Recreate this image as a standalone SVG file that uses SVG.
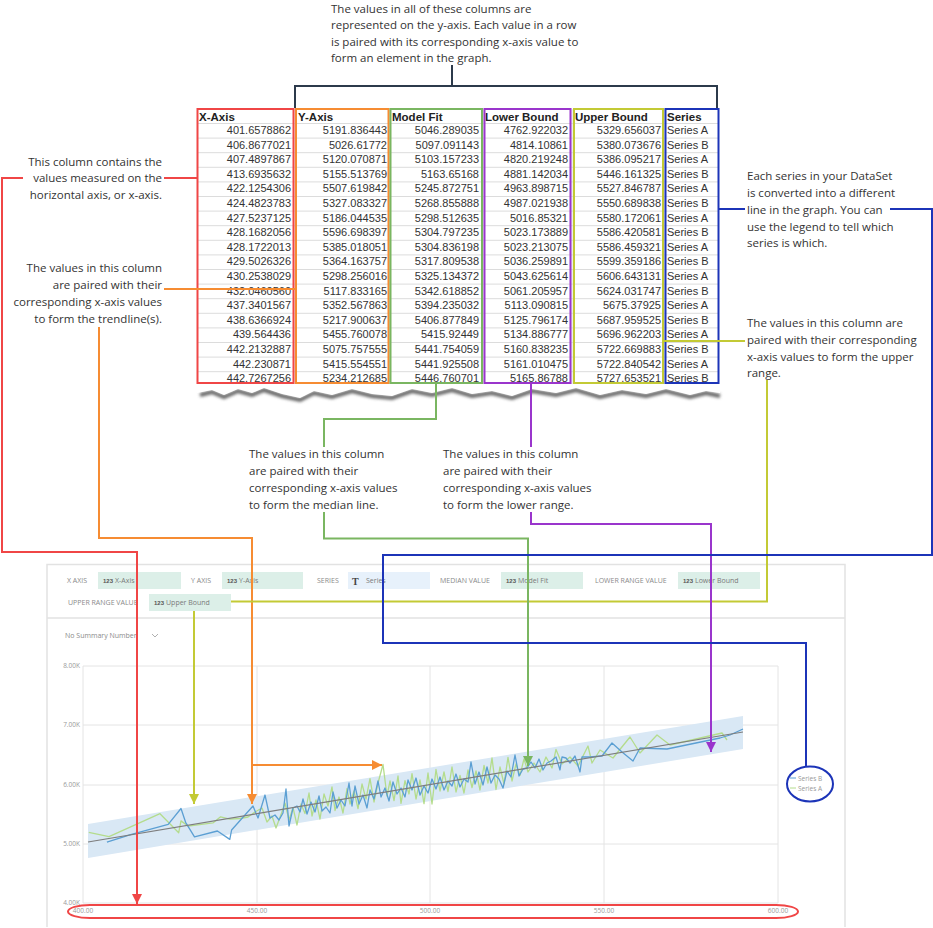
<svg xmlns="http://www.w3.org/2000/svg" width="933" height="928" viewBox="0 0 933 928">
<style>
.ann{font-family:"Open Sans","Noto Sans",sans-serif;font-size:11.5px;fill:#333}
.tb{font-family:"Liberation Sans",Arial,sans-serif;font-size:11px;fill:#333}
.th{font-family:"Liberation Sans",Arial,sans-serif;font-size:11.5px;font-weight:bold;fill:#222}
.grid{stroke:#dcdcdc;stroke-width:1;fill:none}
.lab{font-family:"Open Sans","Noto Sans",sans-serif;font-size:7px;fill:#8a8a8a}
.fld{fill:#dcefe8}
.ico{font-family:"Liberation Sans",Arial,sans-serif;font-size:6px;font-weight:bold;fill:#555}
.ftx{font-family:"Open Sans","Noto Sans",sans-serif;font-size:7px;fill:#7a7a7a}
.ax{font-family:"Open Sans","Noto Sans",sans-serif;font-size:6.5px;fill:#999}
.cg{stroke:#e4e4e4;stroke-width:1;fill:none}
.con{fill:none;stroke-width:2}
.red{stroke:#f04646}.ora{stroke:#f68c32}.yel{stroke:#c3ca35}.grn{stroke:#7ab661}.pur{stroke:#9a35cc}.blu{stroke:#1c34b8}.drk{stroke:#2c3a4b}
</style>
<defs>
<marker id="aR" viewBox="0 0 10 10" refX="10" refY="5" markerWidth="10" markerHeight="10" markerUnits="userSpaceOnUse" orient="auto"><path d="M0,0 L10,5 L0,10z" fill="#f04646"/></marker>
<marker id="aO" viewBox="0 0 10 10" refX="10" refY="5" markerWidth="10" markerHeight="10" markerUnits="userSpaceOnUse" orient="auto"><path d="M0,0 L10,5 L0,10z" fill="#f68c32"/></marker>
<marker id="aY" viewBox="0 0 10 10" refX="10" refY="5" markerWidth="10" markerHeight="10" markerUnits="userSpaceOnUse" orient="auto"><path d="M0,0 L10,5 L0,10z" fill="#c3ca35"/></marker>
<marker id="aG" viewBox="0 0 10 10" refX="10" refY="5" markerWidth="10" markerHeight="10" markerUnits="userSpaceOnUse" orient="auto"><path d="M0,0 L10,5 L0,10z" fill="#7ab661"/></marker>
<marker id="aP" viewBox="0 0 10 10" refX="10" refY="5" markerWidth="10" markerHeight="10" markerUnits="userSpaceOnUse" orient="auto"><path d="M0,0 L10,5 L0,10z" fill="#9a35cc"/></marker>
<filter id="blur" x="-5%" y="-100%" width="110%" height="300%"><feGaussianBlur stdDeviation="1.8"/></filter>
</defs>
<rect width="933" height="928" fill="#fff"/>

<!-- top annotation -->
<g id="note-yaxis">
<text class="ann" x="331" y="12.5">The values in all of these columns are</text>
<text class="ann" x="331" y="29">represented on the y-axis. Each value in a row</text>
<text class="ann" x="331" y="45.5">is paired with its corresponding x-axis value to</text>
<text class="ann" x="331" y="62">form an element in the graph.</text>
</g>

<!-- table -->
<g id="table">
<path class="grid" d="M197,123.5H719M197,138.1H719M197,152.7H719M197,167.3H719M197,181.9H719M197,196.5H719M197,211.1H719M197,225.7H719M197,240.3H719M197,254.9H719M197,269.5H719M197,284.1H719M197,298.7H719M197,313.3H719M197,327.9H719M197,342.5H719M197,357.1H719M197,371.7H719"/>
<path class="grid" d="M295,109V386M389,109V386M483,109V386M572,109V386M664,109V386"/>
<path d="M200,395 L212,392 L224,397 L238,391 L252,395 L264,390 L282,396 L300,400 L314,393 L332,397 L352,391 L372,396 L392,398 L412,391 L432,395 L452,390 L472,396 L492,393 L512,398 L532,391 L556,395 L576,390 L600,397 L622,392 L646,396 L666,391 L690,397 L706,393 L720,396" fill="none" stroke="#666" stroke-width="4" filter="url(#blur)"/>
<path d="M197,384 H720 V393 L706,391 L690,395 L666,389 L646,394 L622,390 L600,395 L576,388 L556,393 L532,389 L512,396 L492,391 L472,394 L452,388 L432,393 L412,389 L392,396 L372,394 L352,389 L332,395 L314,391 L300,398 L282,394 L264,388 L252,393 L238,389 L224,395 L212,390 L197,393 Z" fill="#fff"/>
<g id="col-x">
<text class="th" x="199" y="121">X-Axis</text>
<g class="tb" text-anchor="end">
<text x="291" y="134">401.6578862</text><text x="291" y="148.6">406.8677021</text><text x="291" y="163.2">407.4897867</text><text x="291" y="177.8">413.6935632</text><text x="291" y="192.4">422.1254306</text><text x="291" y="207">424.4823783</text><text x="291" y="221.6">427.5237125</text><text x="291" y="236.2">428.1682056</text><text x="291" y="250.8">428.1722013</text><text x="291" y="265.4">429.5026326</text><text x="291" y="280">430.2538029</text><text x="291" y="294.6">432.0460560</text><text x="291" y="309.2">437.3401567</text><text x="291" y="323.8">438.6366924</text><text x="291" y="338.4">439.564436</text><text x="291" y="353">442.2132887</text><text x="291" y="367.6">442.230871</text><text x="291" y="382.2">442.7267256</text>
</g>
<rect x="197.5" y="109" width="96" height="274" fill="none" class="red" stroke-width="2"/>
</g>
<g id="col-y">
<text class="th" x="298" y="121">Y-Axis</text>
<g class="tb" text-anchor="end">
<text x="387" y="134">5191.836443</text><text x="387" y="148.6">5026.61772</text><text x="387" y="163.2">5120.070871</text><text x="387" y="177.8">5155.513769</text><text x="387" y="192.4">5507.619842</text><text x="387" y="207">5327.083327</text><text x="387" y="221.6">5186.044535</text><text x="387" y="236.2">5596.698397</text><text x="387" y="250.8">5385.018051</text><text x="387" y="265.4">5364.163757</text><text x="387" y="280">5298.256016</text><text x="387" y="294.6">5117.833165</text><text x="387" y="309.2">5352.567863</text><text x="387" y="323.8">5217.900637</text><text x="387" y="338.4">5455.760078</text><text x="387" y="353">5075.757555</text><text x="387" y="367.6">5415.554551</text><text x="387" y="382.2">5234.212685</text>
</g>
<rect x="296" y="109" width="92.5" height="274" fill="none" class="ora" stroke-width="2"/>
</g>
<g id="col-fit">
<text class="th" x="392" y="121">Model Fit</text>
<g class="tb" text-anchor="end">
<text x="479" y="134">5046.289035</text><text x="479" y="148.6">5097.091143</text><text x="479" y="163.2">5103.157233</text><text x="479" y="177.8">5163.65168</text><text x="479" y="192.4">5245.872751</text><text x="479" y="207">5268.855888</text><text x="479" y="221.6">5298.512635</text><text x="479" y="236.2">5304.797235</text><text x="479" y="250.8">5304.836198</text><text x="479" y="265.4">5317.809538</text><text x="479" y="280">5325.134372</text><text x="479" y="294.6">5342.618852</text><text x="479" y="309.2">5394.235032</text><text x="479" y="323.8">5406.877849</text><text x="479" y="338.4">5415.92449</text><text x="479" y="353">5441.754059</text><text x="479" y="367.6">5441.925508</text><text x="479" y="382.2">5446.760701</text>
</g>
<rect x="390.5" y="109" width="91.5" height="274" fill="none" class="grn" stroke-width="2"/>
</g>
<g id="col-lower">
<text class="th" x="485" y="121">Lower Bound</text>
<g class="tb" text-anchor="end">
<text x="568" y="134">4762.922032</text><text x="568" y="148.6">4814.10861</text><text x="568" y="163.2">4820.219248</text><text x="568" y="177.8">4881.142034</text><text x="568" y="192.4">4963.898715</text><text x="568" y="207">4987.021938</text><text x="568" y="221.6">5016.85321</text><text x="568" y="236.2">5023.173889</text><text x="568" y="250.8">5023.213075</text><text x="568" y="265.4">5036.259891</text><text x="568" y="280">5043.625614</text><text x="568" y="294.6">5061.205957</text><text x="568" y="309.2">5113.090815</text><text x="568" y="323.8">5125.796174</text><text x="568" y="338.4">5134.886777</text><text x="568" y="353">5160.838235</text><text x="568" y="367.6">5161.010475</text><text x="568" y="382.2">5165.86788</text>
</g>
<rect x="484.5" y="109" width="86" height="274" fill="none" class="pur" stroke-width="2"/>
</g>
<g id="col-upper">
<text class="th" x="575" y="121">Upper Bound</text>
<g class="tb" text-anchor="end">
<text x="661" y="134">5329.656037</text><text x="661" y="148.6">5380.073676</text><text x="661" y="163.2">5386.095217</text><text x="661" y="177.8">5446.161325</text><text x="661" y="192.4">5527.846787</text><text x="661" y="207">5550.689838</text><text x="661" y="221.6">5580.172061</text><text x="661" y="236.2">5586.420581</text><text x="661" y="250.8">5586.459321</text><text x="661" y="265.4">5599.359186</text><text x="661" y="280">5606.643131</text><text x="661" y="294.6">5624.031747</text><text x="661" y="309.2">5675.37925</text><text x="661" y="323.8">5687.959525</text><text x="661" y="338.4">5696.962203</text><text x="661" y="353">5722.669883</text><text x="661" y="367.6">5722.840542</text><text x="661" y="382.2">5727.653521</text>
</g>
<rect x="574" y="109" width="89" height="274" fill="none" class="yel" stroke-width="2"/>
</g>
<g id="col-series">
<text class="th" x="667" y="121">Series</text>
<g class="tb">
<text x="667" y="134">Series A</text><text x="667" y="148.6">Series B</text><text x="667" y="163.2">Series A</text><text x="667" y="177.8">Series B</text><text x="667" y="192.4">Series A</text><text x="667" y="207">Series B</text><text x="667" y="221.6">Series A</text><text x="667" y="236.2">Series B</text><text x="667" y="250.8">Series A</text><text x="667" y="265.4">Series B</text><text x="667" y="280">Series A</text><text x="667" y="294.6">Series B</text><text x="667" y="309.2">Series A</text><text x="667" y="323.8">Series B</text><text x="667" y="338.4">Series A</text><text x="667" y="353">Series B</text><text x="667" y="367.6">Series A</text><text x="667" y="382.2">Series B</text>
</g>
<rect x="665.5" y="109" width="53" height="274" fill="none" class="blu" stroke-width="2"/>
</g>
</g>

<!-- annotations -->
<g id="note-x" class="ann" text-anchor="end">
<text x="162" y="166">This column contains the</text>
<text x="162" y="182">values measured on the</text>
<text x="162" y="199">horizontal axis, or x-axis.</text>
</g>
<g id="note-trend" class="ann" text-anchor="end">
<text x="162" y="272">The values in this column</text>
<text x="162" y="289">are paired with their</text>
<text x="162" y="306">corresponding x-axis values</text>
<text x="162" y="323">to form the trendline(s).</text>
</g>
<g id="note-series" class="ann">
<text x="747" y="180">Each series in your DataSet</text>
<text x="747" y="197">is converted into a different</text>
<text x="747" y="214">line in the graph. You can</text>
<text x="747" y="231">use the legend to tell which</text>
<text x="747" y="247">series is which.</text>
</g>
<g id="note-upper" class="ann">
<text x="747" y="327">The values in this column are</text>
<text x="747" y="344">paired with their corresponding</text>
<text x="747" y="361">x-axis values to form the upper</text>
<text x="747" y="377">range.</text>
</g>
<g id="note-median" class="ann">
<text x="249" y="458">The values in this column</text>
<text x="249" y="475">are paired with their</text>
<text x="249" y="492">corresponding x-axis values</text>
<text x="249" y="509">to form the median line.</text>
</g>
<g id="note-lower" class="ann">
<text x="443" y="458">The values in this column</text>
<text x="443" y="475">are paired with their</text>
<text x="443" y="492">corresponding x-axis values</text>
<text x="443" y="509">to form the lower range.</text>
</g>

<!-- chart -->
<g id="chart">
<path d="M47,927V564.5H845V927" fill="none" stroke="#e2e2e2" stroke-width="1.5"/>
<line x1="47" y1="618" x2="845" y2="618" stroke="#e2e2e2" stroke-width="1.5"/>
<g id="fields">
<text class="lab" x="67" y="583">X AXIS</text>
<rect class="fld" x="98" y="572" width="83" height="17"/>
<text class="ico" x="103" y="583">123</text><text class="ftx" x="115" y="583">X-Axis</text>
<text class="lab" x="191" y="583">Y AXIS</text>
<rect class="fld" x="222" y="572" width="81" height="17"/>
<text class="ico" x="227" y="583">123</text><text class="ftx" x="239" y="583">Y-Axis</text>
<text class="lab" x="317" y="583">SERIES</text>
<rect x="348" y="572" width="82" height="17" fill="#e7f1fb"/>
<text x="352" y="584.5" font-family="'Liberation Serif',serif" font-size="10" font-weight="bold" fill="#444">T</text><text class="ftx" x="366" y="583">Series</text>
<text class="lab" x="440" y="583">MEDIAN VALUE</text>
<rect class="fld" x="501" y="572" width="82" height="17"/>
<text class="ico" x="506" y="583">123</text><text class="ftx" x="518" y="583">Model Fit</text>
<text class="lab" x="595" y="583">LOWER RANGE VALUE</text>
<rect class="fld" x="678" y="572" width="82" height="17"/>
<text class="ico" x="683" y="583">123</text><text class="ftx" x="695" y="583">Lower Bound</text>
<text class="lab" x="68" y="605">UPPER RANGE VALUE</text>
<rect class="fld" x="149" y="594" width="82" height="17"/>
<text class="ico" x="154" y="605">123</text><text class="ftx" x="166" y="605">Upper Bound</text>
</g>
<text class="lab" x="65" y="638" font-size="8" fill="#b0b0b0">No Summary Number</text>
<polyline points="152,634 155,637 158,634" fill="none" stroke="#b0b0b0" stroke-width="1"/>
<g id="plot">
<path class="cg" d="M83,666H778M83,725H778M83,785H778M83,844H778M83,903H778M83,666V903M257,666V903M430,666V903M604,666V903M778,666V903"/>
<g class="ax" text-anchor="end">
<text x="80" y="668">8.00K</text><text x="80" y="727">7.00K</text><text x="80" y="787">6.00K</text><text x="80" y="846">5.00K</text><text x="80" y="905">4.00K</text>
</g>
<g class="ax" text-anchor="middle">
<text x="83" y="913">400.00</text><text x="257" y="913">450.00</text><text x="430" y="913">500.00</text><text x="604" y="913">550.00</text><text x="778" y="913">600.00</text>
</g>
<polygon points="88,824 743,716 743,749 88,858" fill="#d9e8f5"/>
<polyline fill="none" stroke="#b4dc8c" stroke-width="1.3" stroke-linejoin="round" points="88.8,832.4 109,836.6 160,813.7 178.7,832.7 181,820.9 188.2,826.1 212.9,822.9 220.6,816.8 229.9,819.2 240,818.5 248,817 255,812 262,808 267,822 272,816 276,828 281,814.6 285,803 289,820 293,807.6 297,825 301,804 305,813.5 309,793 312,816 316,800 320,819 324,794 328,806 332,787 335,810.5 339,797 343,813 347,788.5 350,804 354,791 358,808.6 362,784 366,799 370,778.6 374,802 378,783 383,764.5 387,796 390,781 394,800.6 398,776 401,803.4 405,780.7 409,794 412,773.6 416,799 420,780 424,803.6 428,773 432,804 436,769.5 440,791 444,772 448,791.5 452,767 456,792 460,775.5 464,793 468,770 472,787.5 476,771 480,790 484,765.5 488,783 492,758 496,789.5 500,767 504,784 508,757.4 512,781 516,764 520,775.4 524,758.8 528,772 534,763 540,772 546,757 552,768 556,749.4 562,764 570,757 578,766 588,746 592,763 600,750 613,758 630,737 640,753 657,735 670,745 722,733 727,740"/>
<polyline fill="none" stroke="#5b9fd3" stroke-width="1.3" stroke-linejoin="round" points="106.9,842.2 130.6,834.6 168.2,824.4 181,808.5 185.6,822.3 194.5,836.9 217.4,831 229.8,839.4 231.6,830 253,806 258,818 265,795 270,818 275,815 279,820 283,813 286,789 289,826 293,808 297,806 300,812 303,799 307,814 311,802 315,812 319,796 322,811 326,807 330,813 333,792 337,808 341,800 345,806 349,783 352,806 355,786 359,804 363,795 367,808 370,790 374,799 378,781 381,797 385,788 389,801 393,782 397,794 401,788 405,797 408,780 412,790 416,778 420,795 424,786 428,793 432,779 436,789 440,777 444,790 448,781 452,786 456,774 460,787 464,779 468,782 471,762 475,784 479,772 483,785 487,767 491,783 495,775 499,779 503,788 507,771 511,777 515,755 519,776 523,769 527,768 531,762 535,768 539,759 543,770 547,763 551,761 556,757 560,770 562,757 566,758 570,763 575,756 580,772 582,757 590,757 602,756 612,743 622,752 633,761 640,748 667,749 720,738 730,735 743,729"/>
<line x1="88" y1="842" x2="743" y2="732" stroke="#7d7d7d" stroke-width="1.2"/>
</g>
<g id="legend">
<line x1="790" y1="778" x2="796" y2="778" stroke="#5b9fd3" stroke-width="1"/>
<text class="ax" x="798" y="780.5" font-size="6">Series B</text>
<line x1="790" y1="788" x2="796" y2="788" stroke="#b4dc8c" stroke-width="1"/>
<text class="ax" x="798" y="790.5" font-size="6">Series A</text>
</g>
</g>

<!-- highlight shapes -->
<g id="x-axis-oval"><rect x="68" y="905" width="730" height="13" rx="22" ry="6.5" fill="none" class="red" stroke-width="2"/></g>
<g id="legend-circle"><ellipse cx="810" cy="784" rx="23" ry="17.5" fill="none" class="blu" stroke-width="2"/></g>

<!-- connectors -->
<g id="connectors">
<path class="con drk" d="M295,108V86H717V108M452,65V86"/>
<path class="con red" d="M197,178H164M23,178H2V552H137V904" marker-end="url(#aR)"/>
<path class="con ora" d="M296,289H164"/>
<path class="con ora" d="M99,327V538H252V804" marker-end="url(#aO)"/>
<path class="con ora" d="M252,765H382" marker-end="url(#aO)"/>
<path class="con yel" d="M663,341H745M767,380V601.5H231"/>
<path class="con yel" d="M194,611V804" marker-end="url(#aY)"/>
<path class="con grn" d="M436,383V419H324V447"/>
<path class="con grn" d="M324,512V538.5H528V766" marker-end="url(#aG)"/>
<path class="con pur" d="M531,383V447"/>
<path class="con pur" d="M531,512V524H711V752" marker-end="url(#aP)"/>
<path class="con blu" d="M718,209H745M890,209H932V555H383V643H806V766"/>
</g>
</svg>
